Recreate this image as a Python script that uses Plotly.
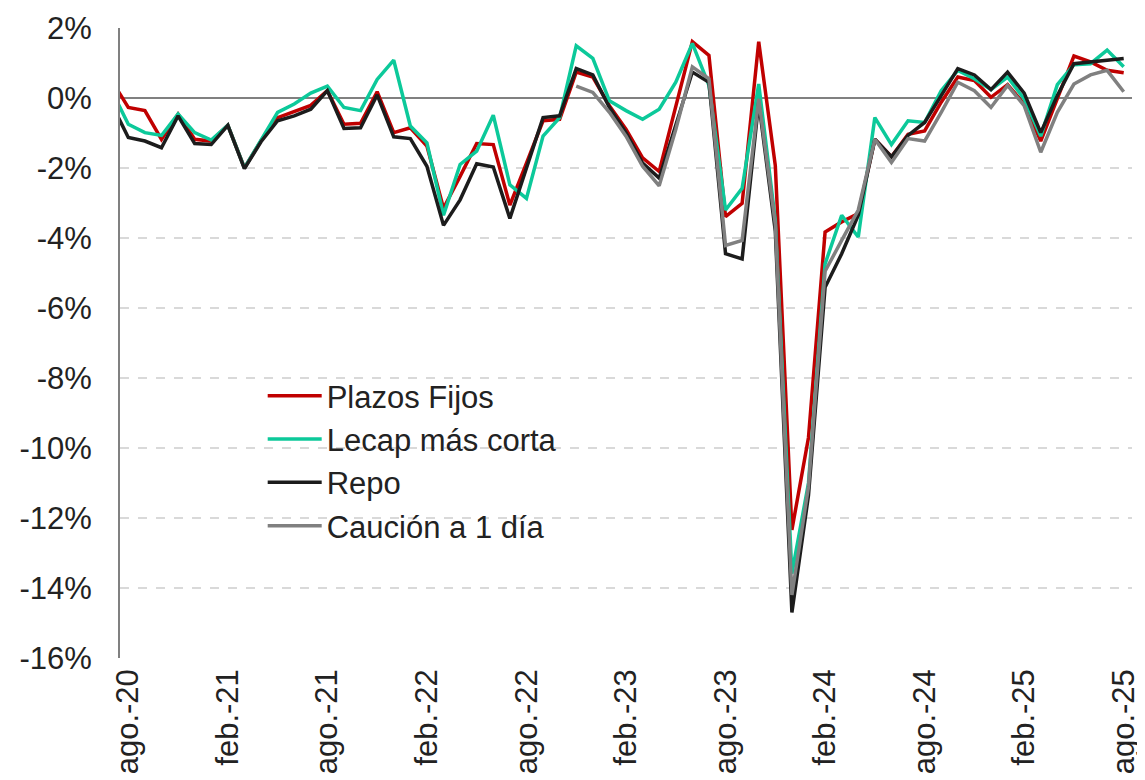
import plotly.graph_objects as go

# months from jul-20 (partly outside the axis, clipped like in the original) to ago-25
abbr = ["ene.", "feb.", "mar.", "abr.", "may.", "jun.", "jul.", "ago.", "sep.", "oct.", "nov.", "dic."]
months = []
for year in range(20, 26):
    for m in abbr:
        months.append(f"{m}-{year}")
months = months[months.index("jul.-20"):months.index("ago.-25") + 1]

tick_labels = ["ago.-20", "feb.-21", "ago.-21", "feb.-22", "ago.-22", "feb.-23",
               "ago.-23", "feb.-24", "ago.-24", "feb.-25", "ago.-25"]

y_ticks = [2, 0, -2, -4, -6, -8, -10, -12, -14, -16]
y_ticktext = ["2%", "0%", "-2%", "-4%", "-6%", "-8%", "-10%", "-12%", "-14%", "-16%"]

# % values, jul-20 .. ago-25
plazos_fijos = [
    0.50, -0.27, -0.36, -1.18, -0.46, -1.18, -1.23, -0.78, -2.00, -1.22, -0.56, -0.39, -0.21,
    0.21, -0.75, -0.72, 0.18, -0.99, -0.85, -1.37, -3.15, -2.24, -1.30, -1.33, -3.06,
    -1.86, -0.65, -0.61, 0.74, 0.60, -0.22, -0.89, -1.71, -2.10, -0.25, 1.61, 1.22,
    -3.39, -3.01, 1.61, -1.93, -12.34, -9.70, -3.83, -3.54, -3.30, -1.18, -1.68, -1.04,
    -0.94, -0.12, 0.60, 0.50, 0.02, 0.38, -0.17, -1.23, -0.03, 1.20, 1.03, 0.79, 0.72,
]
lecap = [
    0.21, -0.75, -0.99, -1.07, -0.46, -0.99, -1.20, -0.78, -2.00, -1.22, -0.41, -0.17, 0.14,
    0.34, -0.27, -0.36, 0.53, 1.08, -0.80, -1.28, -3.35, -1.90, -1.52, -0.49, -2.48,
    -2.87, -1.09, -0.56, 1.49, 1.13, -0.08, -0.36, -0.61, -0.32, 0.45, 1.56, 0.36,
    -3.20, -2.58, 0.40, -3.50, -13.59, -11.00, -4.74, -3.35, -3.97, -0.56, -1.33, -0.65,
    -0.70, 0.21, 0.79, 0.55, 0.24, 0.60, -0.03, -1.09, 0.38, 0.95, 0.98, 1.37, 0.89,
]
repo = [
    -0.17, -1.13, -1.23, -1.42, -0.51, -1.30, -1.33, -0.78, -2.02, -1.25, -0.65, -0.51, -0.32,
    0.21, -0.87, -0.85, 0.09, -1.11, -1.16, -1.95, -3.64, -2.91, -1.88, -1.97, -3.44,
    -2.00, -0.56, -0.51, 0.84, 0.66, -0.27, -0.99, -1.86, -2.29, -0.80, 0.74, 0.45,
    -4.45, -4.60, -0.12, -3.80, -14.70, -11.35, -5.41, -4.45, -3.35, -1.18, -1.68, -1.07,
    -0.70, 0.07, 0.84, 0.66, 0.24, 0.74, 0.14, -0.99, 0.07, 0.98, 1.03, 1.08, 1.13,
]
caucion = [None] * 28 + [
    0.34, 0.16, -0.41, -1.09, -1.95, -2.51, -0.90, 0.89, 0.55,
    -4.21, -4.07, -0.03, -3.60, -14.20, -11.10, -4.95, -4.07, -3.20, -1.18, -1.84, -1.16,
    -1.23, -0.41, 0.45, 0.21, -0.27, 0.36, -0.22, -1.55, -0.41, 0.40, 0.66, 0.79, 0.18,
]

series = [
    ("Plazos Fijos", plazos_fijos, "#C00000"),
    ("Lecap más corta", lecap, "#0CC99A"),
    ("Repo", repo, "#1C1C1C"),
    ("Caución a 1 día", caucion, "#808080"),
]

font_family = "Liberation Sans, Arial, sans-serif"
text_color = "#222222"

fig = go.Figure()
for name, values, color in series:
    fig.add_trace(go.Scatter(
        x=months, y=values, name=name, mode="lines", legendgroup=name,
        line=dict(color=color, width=3.5), connectgaps=False,
    ))

# the page body has an 8px margin, so the figure is 8px smaller than the window
fig.update_layout(
    width=1137, height=772,
    margin=dict(l=112, r=13, t=20, b=122, autoexpand=False),
    paper_bgcolor="white", plot_bgcolor="white",
    font=dict(family=font_family, size=31, color=text_color),
    showlegend=True,
    legend=dict(
        x=0.141, y=0.4586, xanchor="left", yanchor="top",
        bgcolor="rgba(0,0,0,0)", font=dict(size=31, color=text_color),
        itemwidth=54, traceorder="grouped", tracegroupgap=0,
    ),
    xaxis=dict(
        type="category", range=[0.5, len(months) - 0.5], automargin=False,
        tickmode="array", tickvals=tick_labels, ticktext=tick_labels,
        tickangle=-90, ticks="", showgrid=False, showline=False, zeroline=False,
        ticklabelstandoff=4, tickfont=dict(size=31, color=text_color),
    ),
    yaxis=dict(
        range=[-16, 2], tickmode="array", tickvals=y_ticks, ticktext=y_ticktext,
        automargin=False,
        showgrid=True, gridcolor="#d9d9d9", griddash="dash", gridwidth=1.5,
        zeroline=True, zerolinecolor="#808080", zerolinewidth=2,
        showline=True, linecolor="#808080", linewidth=2, ticks="",
        ticklabelstandoff=20, tickfont=dict(size=31, color=text_color),
    ),
)

fig.write_html("out.html")
